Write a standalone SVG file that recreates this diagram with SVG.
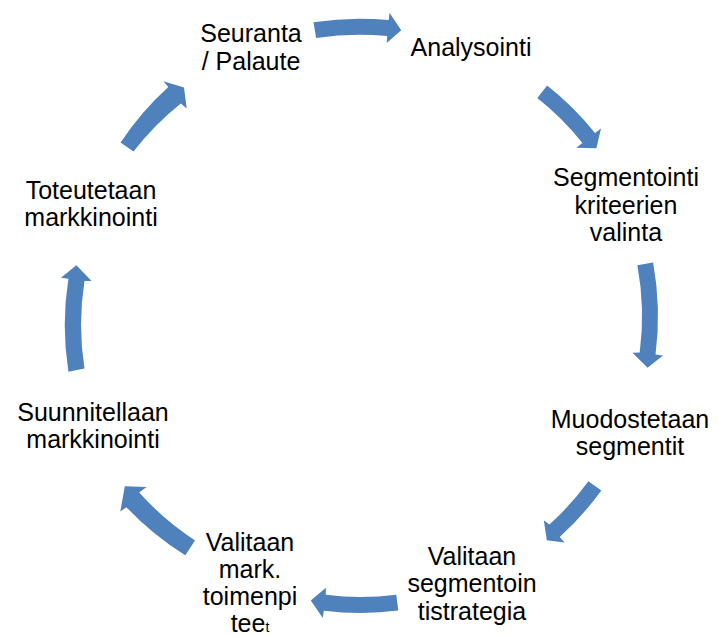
<svg xmlns="http://www.w3.org/2000/svg" width="718" height="637" viewBox="0 0 718 637">
<style>
.arrow{fill:#4F81BD;stroke:none}
.lbl{font-family:"Liberation Sans",Arial,sans-serif;font-size:25px;fill:#000;text-anchor:middle}
.small{font-size:14px}
</style>
<rect width="718" height="637" fill="#fff"/>
<g id="connectors">
<path class="arrow" d="M313.5,22.2 A297,297 0 0 1 388.7,20.1 L389.5,12.7 L401.2,30.3 L386.7,43.0 L387.2,36.1 A281,281 0 0 0 316.1,38.0 Z"/>
<path class="arrow" d="M547.2,85.6 A297,297 0 0 1 595.0,133.1 L601.0,128.6 L596.4,148.3 L576.2,147.7 L582.4,143.0 A281,281 0 0 0 537.3,98.1 Z"/>
<path class="arrow" d="M653.1,262.5 A297,297 0 0 1 655.5,354.6 L663.0,355.6 L647.6,367.8 L632.5,352.7 L639.7,352.6 A281,281 0 0 0 637.4,265.3 Z"/>
<path class="arrow" d="M601.3,490.6 A297,297 0 0 1 559.7,536.9 L564.6,542.6 L546.8,540.2 L543.8,520.2 L549.4,524.6 A281,281 0 0 0 588.4,481.2 Z"/>
<path class="arrow" d="M398.3,610.6 A297,297 0 0 1 323.8,610.7 L322.8,618.1 L310.8,600.6 L325.9,587.7 L325.8,594.8 A281,281 0 0 0 396.3,594.7 Z"/>
<path class="arrow" d="M185.3,555.3 A297,297 0 0 1 126.4,507.2 L120.3,511.6 L124.8,486.2 L146.6,486.9 L139.2,492.5 A281,281 0 0 0 195.0,540.4 Z"/>
<path class="arrow" d="M68.4,371.7 A297,297 0 0 1 68.4,278.8 L60.9,277.8 L76.4,265.2 L91.6,281.1 L84.5,280.9 A281,281 0 0 0 84.5,368.6 Z"/>
<path class="arrow" d="M120.6,142.5 A297,297 0 0 1 168.3,87.1 L163.4,81.3 L184.0,87.4 L186.7,108.4 L180.8,103.5 A281,281 0 0 0 133.5,151.6 Z"/>
</g>
<g id="n1"><text class="lbl" x="251" y="42">Seuranta</text><text class="lbl" x="251" y="70">/ Palaute</text></g>
<g id="n2"><text class="lbl" x="471" y="56">Analysointi</text></g>
<g id="n3"><text class="lbl" x="626" y="186">Segmentointi</text><text class="lbl" x="626" y="214">kriteerien</text><text class="lbl" x="626" y="241">valinta</text></g>
<g id="n4"><text class="lbl" x="630" y="428">Muodostetaan</text><text class="lbl" x="630" y="455">segmentit</text></g>
<g id="n5"><text class="lbl" x="472" y="565">Valitaan</text><text class="lbl" x="472" y="592">segmentoin</text><text class="lbl" x="472" y="620">tistrategia</text></g>
<g id="n6"><text class="lbl" x="250" y="551">Valitaan</text><text class="lbl" x="250" y="578">mark.</text><text class="lbl" x="250" y="605">toimenpi</text><text class="lbl" x="250" y="632">tee<tspan class="small">t</tspan></text></g>
<g id="n7"><text class="lbl" x="93" y="421">Suunnitellaan</text><text class="lbl" x="93" y="448">markkinointi</text></g>
<g id="n8"><text class="lbl" x="91" y="199">Toteutetaan</text><text class="lbl" x="91" y="226">markkinointi</text></g>
</svg>
